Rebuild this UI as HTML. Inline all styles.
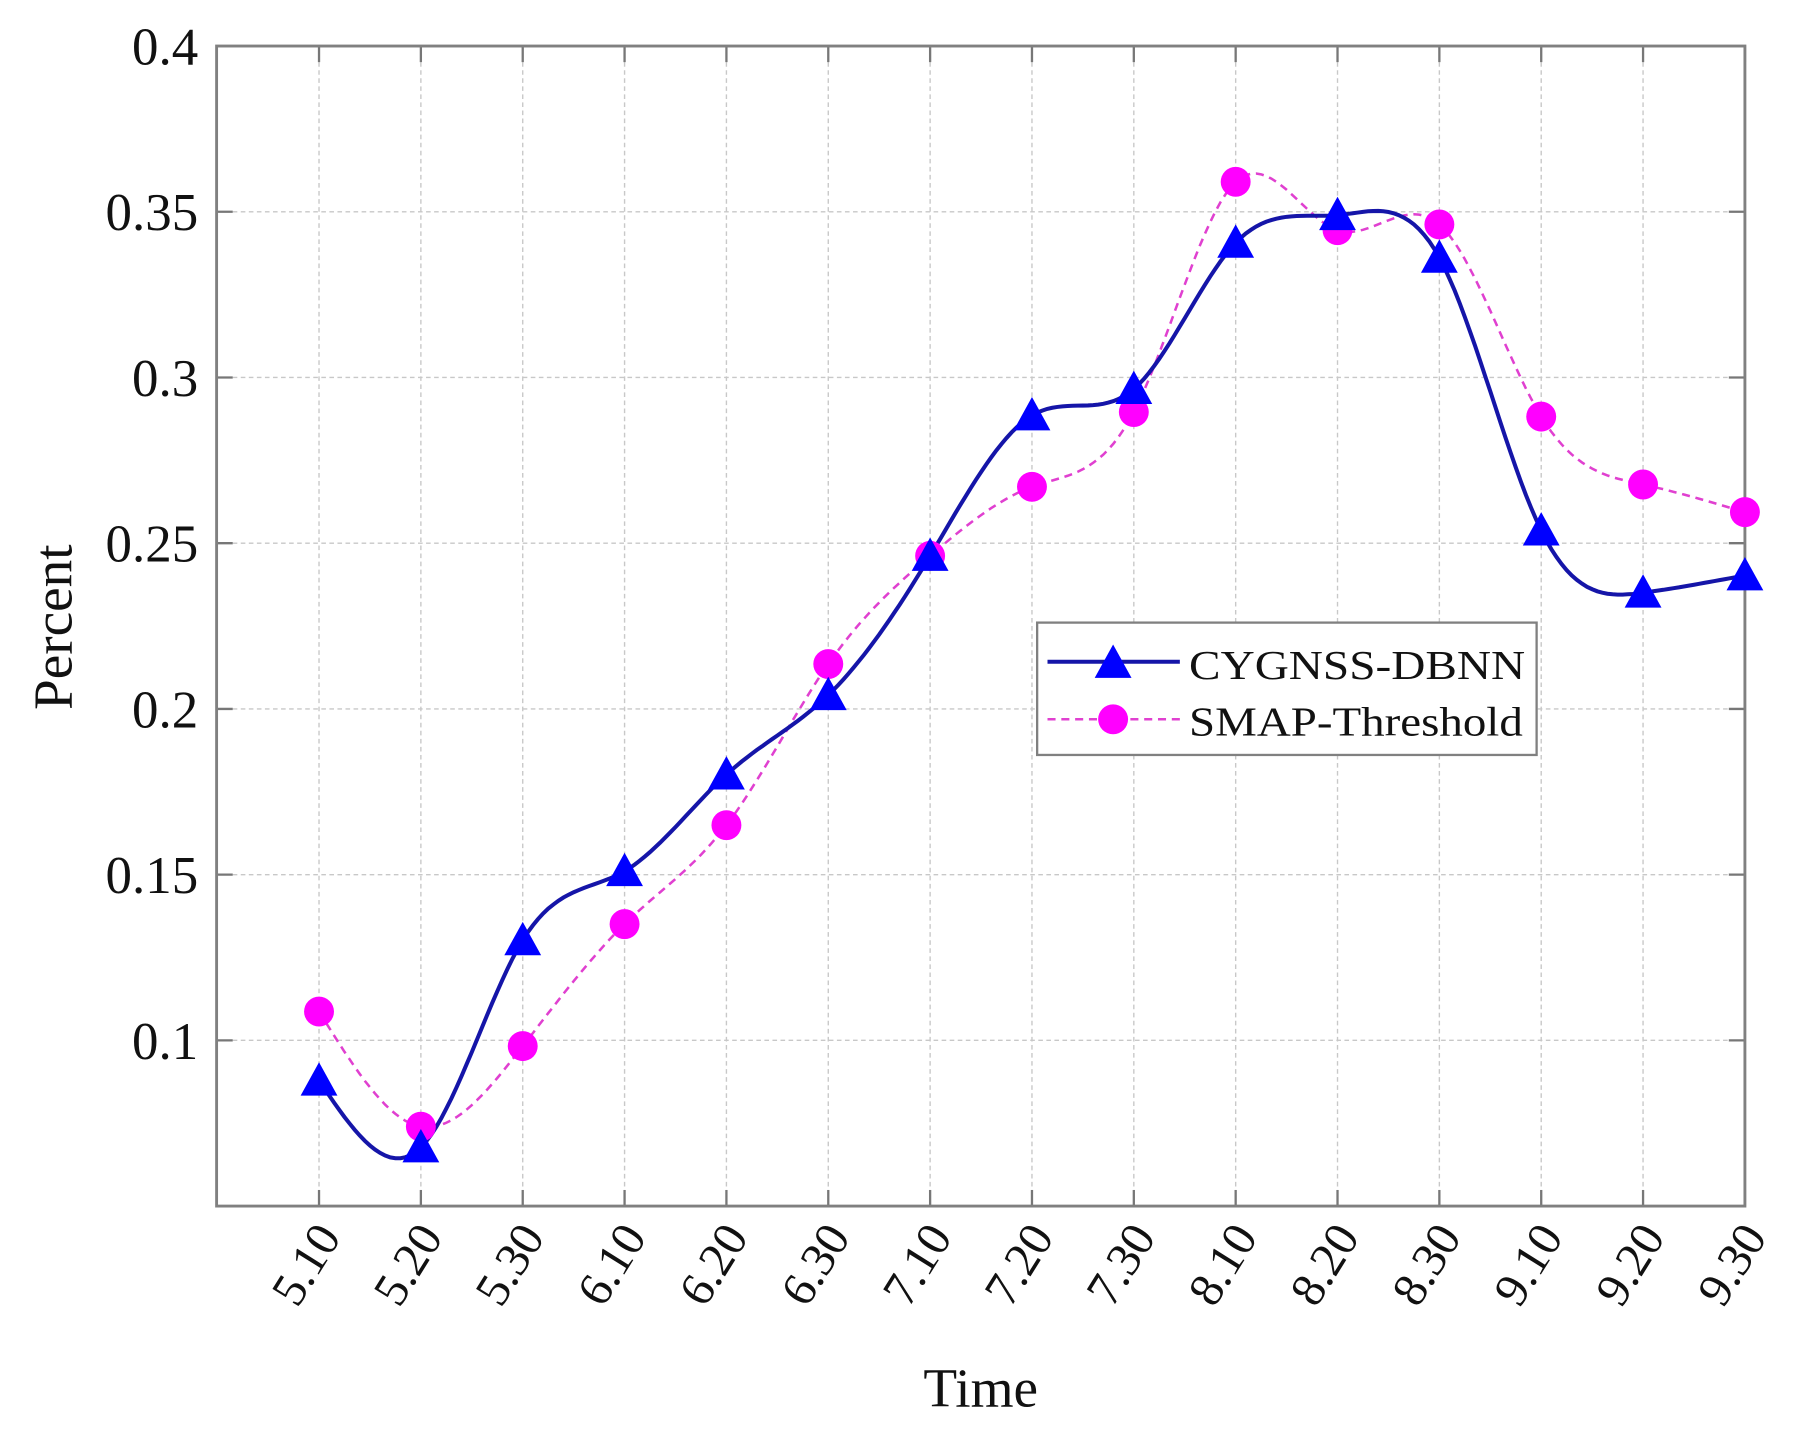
<!DOCTYPE html>
<html><head><meta charset="utf-8"><style>
html,body{margin:0;padding:0;background:#fff;}
svg{display:block;}
text{font-family:"Liberation Serif",serif;fill:#111;}
</style></head><body>
<svg id="s" width="1805" height="1442" viewBox="0 0 1568 1253" xmlns="http://www.w3.org/2000/svg">
<rect x="0" y="0" width="1568" height="1253" fill="#fff"/>
<g id="grid" stroke="#c8c8c8" stroke-width="1.2" stroke-dasharray="4,3"></g>
<g id="ticks" stroke="#777" stroke-width="2"></g>
<rect x="188" y="40" width="1328" height="1008" fill="none" stroke="#808080" stroke-width="2.5"/>
<g id="ylab" font-size="46" text-anchor="end"></g>
<g id="xlab" font-size="42" text-anchor="end"></g>
<text x="852" y="1222" font-size="48" text-anchor="middle">Time</text>
<text transform="translate(62,545) rotate(-90)" font-size="48" text-anchor="middle">Percent</text>
<path id="pp" fill="none" stroke="#e040d0" stroke-width="2.2" stroke-dasharray="7,5"/>
<path id="bp" fill="none" stroke="#1515a8" stroke-width="3.5"/>
<g id="pm" fill="#ff00ff"></g>
<g id="bm" fill="#0000ff"></g>
<rect x="901" y="541" width="434" height="115" fill="#fff" stroke="#808080" stroke-width="2"/>
<line x1="910" y1="575" x2="1025" y2="575" stroke="#1515a8" stroke-width="3.5"/>
<polygon points="967,560 983,589 951,589" fill="#0000ff"/>
<text x="1033" y="590" font-size="36" textLength="292" lengthAdjust="spacingAndGlyphs">CYGNSS-DBNN</text>
<line x1="910" y1="625" x2="1025" y2="625" stroke="#e040d0" stroke-width="2.2" stroke-dasharray="7,5"/>
<circle cx="967" cy="625" r="13" fill="#ff00ff"/>
<text x="1033" y="639" font-size="36" textLength="290" lengthAdjust="spacingAndGlyphs">SMAP-Threshold</text>
</svg>
<script>
var NS="http://www.w3.org/2000/svg";
function el(p,n,a,t){var e=document.createElementNS(NS,n);for(var k in a)e.setAttribute(k,a[k]);if(t)e.textContent=t;document.getElementById(p).appendChild(e);}
var labs=["5.10","5.20","5.30","6.10","6.20","6.30","7.10","7.20","7.30","8.10","8.20","8.30","9.10","9.20","9.30"];
var X=[];for(var i=0;i<15;i++)X.push(277+i*(1516-277)/14);
for(var i=0;i<15;i++){
 if(i<14){el("grid","line",{x1:X[i],y1:40,x2:X[i],y2:1048});}
 el("ticks","line",{x1:X[i],y1:1048,x2:X[i],y2:1034});
 el("ticks","line",{x1:X[i],y1:40,x2:X[i],y2:54});
 el("xlab","text",{transform:"translate("+(X[i]+20)+",1075) rotate(-58)"},labs[i]);
}
var yl=["0.4","0.35","0.3","0.25","0.2","0.15","0.1"];
for(var j=0;j<7;j++){var y=40+j*144;
 if(j>0){el("grid","line",{x1:188,y1:y,x2:1516,y2:y});
 el("ticks","line",{x1:188,y1:y,x2:202,y2:y});el("ticks","line",{x1:1516,y1:y,x2:1502,y2:y});}
 el("ylab","text",{x:172,y:y+16},yl[j]);}
var B=[939,997,817,757,673,604,483,361,338,211,187,224,461,515,500];
var P=[879,979,909,803,717,577,483,423,358,158,200,195,362,421,445];
function spline(x,y){var n=x.length,h=[],al=[],l=[1],mu=[0],z=[0],c=new Array(n).fill(0),b=[],d=[];
 for(var i=0;i<n-1;i++)h.push(x[i+1]-x[i]);
 for(var i=1;i<n-1;i++)al[i]=3/h[i]*(y[i+1]-y[i])-3/h[i-1]*(y[i]-y[i-1]);
 for(var i=1;i<n-1;i++){l[i]=2*(x[i+1]-x[i-1])-h[i-1]*mu[i-1];mu[i]=h[i]/l[i];z[i]=(al[i]-h[i-1]*z[i-1])/l[i];}
 for(var j=n-2;j>=0;j--){c[j]=z[j]-mu[j]*c[j+1];b[j]=(y[j+1]-y[j])/h[j]-h[j]*(c[j+1]+2*c[j])/3;d[j]=(c[j+1]-c[j])/(3*h[j]);}
 var s="M"+x[0]+","+y[0];
 for(var i=0;i<n-1;i++)for(var k=1;k<=20;k++){var t=h[i]*k/20;s+=" L"+(x[i]+t).toFixed(1)+","+(y[i]+b[i]*t+c[i]*t*t+d[i]*t*t*t).toFixed(1);}
 return s;}
document.getElementById("bp").setAttribute("d",spline(X,B));
document.getElementById("pp").setAttribute("d",spline(X,P));
for(var i=0;i<15;i++){
 el("pm","circle",{cx:X[i],cy:P[i],r:13});
 el("bm","polygon",{points:X[i]+","+(B[i]-16)+" "+(X[i]+16)+","+(B[i]+13)+" "+(X[i]-16)+","+(B[i]+13)});}
</script>
</body></html>
